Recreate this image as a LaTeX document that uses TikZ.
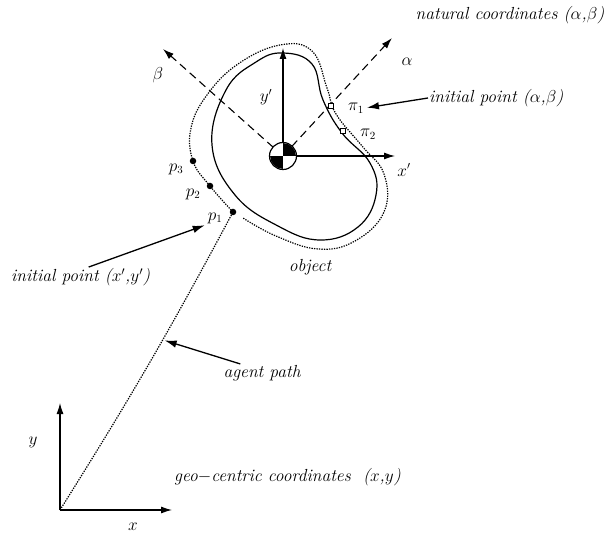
\documentclass[tikz,border=0pt]{standalone}
\usetikzlibrary{arrows.meta,positioning}

\begin{document}
\begin{tikzpicture}[
  x=1pt, y=-1pt,
  lbl/.style={font=\itshape\fontsize{17.5}{20}\selectfont, inner sep=1pt},
  sym/.style={font=\fontsize{16}{18}\selectfont, inner sep=1pt},
  axis/.style={-{Latex[length=11pt,width=7pt]}, line width=1.1pt},
  dashaxis/.style={axis, dash pattern=on 8pt off 5pt},
  ptr/.style={-{Latex[length=12pt,width=7.5pt]}, line width=1.3pt, shorten >=2pt},
  dot/.style={circle, fill=black, inner sep=0pt, minimum size=6.5pt},
  sq/.style={rectangle, draw, fill=white, line width=0.8pt, inner sep=0pt, minimum size=5.5pt},
  pathdots/.style={dash pattern=on 1.3pt off 1.2pt, line width=1.2pt},
]
  \useasboundingbox (0,0) rectangle (605,534);

  % object outline
  \draw[line width=1.2pt] plot[smooth cycle, tension=0.7] coordinates {
    (283,53) (312,64) (323,100) (342,133) (370,163) (376,195) (358,227)
    (320,240) (278,226) (235,195) (212,145) (226,90) (256,62)};

  % agent path round the object
  \draw[pathdots] plot[smooth, tension=0.7] coordinates {
    (233,212) (210,186) (193,161) (191,128) (207,95) (238,64) (280,45)
    (312,51) (327,88) (336,114) (362,146) (384,174) (384,212) (355,241)
    (318,249) (276,236) (243,218)};

  % natural axes
  \coordinate (c) at (283,156);
  \coordinate (atip) at (392,38);
  \coordinate (btip) at (163,49);
  \draw[dashaxis] (c) -- (atip);
  \draw[dashaxis] (c) -- (btip);

  % centroid
  \node[circle, draw, line width=1.2pt, fill=white, minimum size=27pt, inner sep=0pt] (cg) at (c) {};
  \begin{scope}
    \clip (c) circle (12.9);
    \fill (c) rectangle ++(15,-15);
    \fill (c) rectangle ++(-15,15);
  \end{scope}
  \coordinate (ytip) at (283,48);
  \coordinate (xtip) at (395,156);
  \draw[axis] (cg.north) -- (ytip);
  \draw[axis] (cg.east) -- (xtip);

  \node[sym] (alab) at (407,62) {$\alpha$};
  \node[sym] (blab) at (158,75) {$\beta$};
  \node[sym] (ylab) at (266,97) {$y'$};
  \node[sym] (xlab) at (404,170) {$x'$};

  % points on the path
  \node[sq] (pi1) at (331,106) {};
  \node[sq] (pi2) at (343,131) {};
  \node[sym] (pi1l) at (356,108) {$\pi_1$};
  \node[sym] (pi2l) at (368,134) {$\pi_2$};
  \node[dot] (p1) at (233,212) {};
  \node[dot] (p2) at (210,186) {};
  \node[dot] (p3) at (193,161) {};
  \node[sym] (p1l) at (215,218) {$p_1$};
  \node[sym] (p2l) at (193,194) {$p_2$};
  \node[sym] (p3l) at (176,169) {$p_3$};

  % labels
  \node[lbl] (nat) at (510,15) {natural coordinates ($\alpha$,$\beta$)};
  \node[lbl, anchor=west] (ipab) at (428,98) {initial point ($\alpha$,$\beta$)};
  \node[lbl, anchor=west] (ipxy) at (10,277) {initial point ($x'$,$y'$)};
  \node[lbl] (obj) at (310,267) {object};
  \node[lbl] (agent) at (262,373) {agent path};
  \node[lbl, anchor=west] (geoc) at (173,477) {geo$-$centric coordinates \ ($x$,$y$)};

  % geo-centric axes
  \coordinate (geo) at (60,510);
  \coordinate (gy) at (60,403);
  \coordinate (gx) at (172,510);
  \draw[axis] (geo) -- (gy);
  \draw[axis] (geo) -- (gx);
  \node[sym] (gylab) at (33,442) {$y$};
  \node[sym] (gxlab) at (133,527) {$x$};

  % agent path to the object
  \draw[pathdots] (geo) to[bend right=2] coordinate[pos=0.59] (tgt) (p1);

  % pointers
  \draw[ptr] (ipab.west) -- (pi1l.east);
  \draw[ptr] ([xshift=8pt]ipxy.north) -- (p1l.south west);
  \draw[ptr] ([xshift=18pt]agent.north west) -- (tgt);
\end{tikzpicture}
\end{document}
